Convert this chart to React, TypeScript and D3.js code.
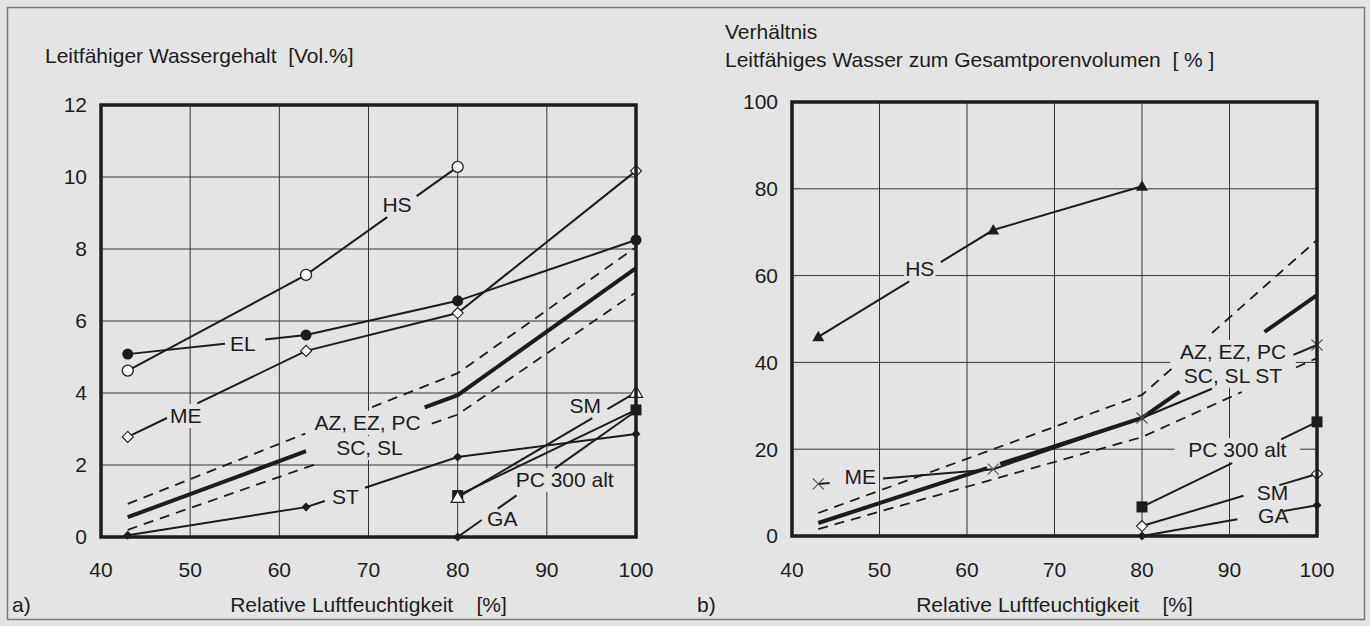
import React from 'react';
import * as d3 from 'd3';

type Pt = [number, number];
type Gap = [number, number];

const xTicks = [40, 50, 60, 70, 80, 90, 100];
const yTicksA = [0, 2, 4, 6, 8, 10, 12];
const yTicksB = [0, 20, 40, 60, 80, 100];

// ---------- Panel a: Leitfähiger Wassergehalt [Vol.%] ----------
const aHS: Pt[] = [[43, 4.62], [63, 7.28], [80, 10.28]];
const aEL: Pt[] = [[43, 5.08], [63, 5.61], [80, 6.56], [100, 8.25]];
const aME: Pt[] = [[43, 2.78], [63, 5.17], [80, 6.22], [100, 10.17]];
const aST: Pt[] = [[43, 0.05], [63, 0.83], [80, 2.22], [100, 2.86]];
const aGroupMid: Pt[] = [[43, 0.55], [80, 3.94], [100, 7.47]];
const aGroupHigh: Pt[] = [[43, 0.92], [80, 4.55], [100, 8.05]];
const aGroupLow: Pt[] = [[43, 0.2], [80, 3.4], [100, 6.8]];
const aSM: Pt[] = [[80, 1.1], [100, 4.02]];
const aPC300: Pt[] = [[80, 1.15], [100, 3.53]];
const aGA: Pt[] = [[80, 0], [100, 3.5]];

// ---------- Panel b: Verhältnis leitfähiges Wasser / Gesamtporenvolumen [%] ----------
const bHS: Pt[] = [[43, 45.9], [63, 70.5], [80, 80.6]];
const bME: Pt[] = [[43, 12.0], [63, 15.4], [80, 27.2], [100, 44.0]];
const bGroupMid: Pt[] = [[43, 3.0], [80, 27.2], [100, 55.5]];
const bGroupHigh: Pt[] = [[43, 5.3], [80, 32.5], [100, 68.2]];
const bGroupLow: Pt[] = [[43, 1.6], [80, 22.8], [100, 41.0]];
const bPC300: Pt[] = [[80, 6.7], [100, 26.3]];
const bSM: Pt[] = [[80, 2.3], [100, 14.3]];
const bGA: Pt[] = [[80, 0], [100, 7.1]];

type Marker = 'none' | 'circleOpen' | 'circleFilled' | 'diamondOpen' | 'diamondFilled' | 'triangleOpen' | 'triangleFilled' | 'squareFilled' | 'cross';

interface Series {
  pts: Pt[];
  gaps: Gap[];
  marker: Marker;
  width: number;
  dash?: string;
}

const seriesA: Series[] = [
  { pts: aGroupHigh, gaps: [[62.9, 70.4]], marker: 'none', width: 1.8, dash: '10,7' },
  { pts: aGroupLow, gaps: [[64.6, 77.1]], marker: 'none', width: 1.8, dash: '10,7' },
  { pts: aGroupMid, gaps: [[63.0, 76.3]], marker: 'none', width: 4 },
  { pts: aHS, gaps: [[72.1, 75.4]], marker: 'circleOpen', width: 2 },
  { pts: aEL, gaps: [[53.9, 58.4]], marker: 'circleFilled', width: 2 },
  { pts: aME, gaps: [[47.4, 50.8]], marker: 'diamondOpen', width: 2 },
  { pts: aST, gaps: [[65.1, 69.6]], marker: 'diamondFilled', width: 2 },
  { pts: aGA, gaps: [[82.7, 84.5], [86.6, 90.9]], marker: 'diamondFilled', width: 2 },
  { pts: aPC300, gaps: [], marker: 'squareFilled', width: 2 },
  { pts: aSM, gaps: [[95.1, 96.8]], marker: 'triangleOpen', width: 2 },
];

const seriesB: Series[] = [
  { pts: bGroupHigh, gaps: [[83.5, 88.0]], marker: 'none', width: 1.8, dash: '10,7' },
  { pts: bGroupLow, gaps: [[91.4, 97.6]], marker: 'none', width: 1.8, dash: '10,7' },
  { pts: bGroupMid, gaps: [[62.3, 63.8], [84.3, 94.0]], marker: 'none', width: 4 },
  { pts: bHS, gaps: [[53.4, 57.0]], marker: 'triangleFilled', width: 2 },
  { pts: bME, gaps: [[44.3, 50.4], [88.0, 97.3]], marker: 'cross', width: 2 },
  { pts: bPC300, gaps: [[90.3, 95.9]], marker: 'squareFilled', width: 2 },
  { pts: bSM, gaps: [[91.6, 95.7]], marker: 'diamondOpen', width: 2 },
  { pts: bGA, gaps: [[90.9, 96.2]], marker: 'diamondFilled', width: 2 },
];

const labelTextA = ['HS', 'EL', 'ME', 'AZ, EZ, PC', 'SC, SL', 'ST', 'SM', 'PC 300 alt', 'GA'];
const labelPosA: Pt[] = [[73.2, 9.22], [55.9, 5.36], [49.5, 3.36], [69.9, 3.17], [70.1, 2.47], [67.4, 1.11], [94.3, 3.64], [92.0, 1.58], [85.0, 0.5]];
const labelTextB = ['HS', 'ME', 'AZ, EZ, PC', 'SC, SL ST', 'PC 300 alt', 'SM', 'GA'];
const labelPosB: Pt[] = [[54.6, 61.5], [47.8, 13.6], [90.4, 42.4], [90.4, 36.9], [90.9, 19.8], [94.9, 10.1], [95.0, 4.6]];

const BG = '#e4e4e4';
const INK = '#1c1c1c';
const FONT = '"Liberation Sans", Arial, Helvetica, sans-serif';
const FS = 21;

function interp(pts: Pt[], x: number): number {
  for (let i = 0; i < pts.length - 1; i++) {
    const [x0, y0] = pts[i];
    const [x1, y1] = pts[i + 1];
    if (x >= x0 && x <= x1) return y0 + ((y1 - y0) * (x - x0)) / (x1 - x0);
  }
  return pts[pts.length - 1][1];
}

function splitSegments(pts: Pt[], gaps: Gap[]): Pt[][] {
  const xmin = pts[0][0];
  const xmax = pts[pts.length - 1][0];
  const xs = Array.from(new Set([...pts.map((p) => p[0]), ...gaps.flat()]))
    .filter((x) => x >= xmin && x <= xmax)
    .sort((a, b) => a - b);
  const segs: Pt[][] = [];
  let cur: Pt[] | null = null;
  for (let i = 0; i < xs.length - 1; i++) {
    const a = xs[i];
    const b = xs[i + 1];
    const mid = (a + b) / 2;
    const inGap = gaps.some((g) => mid > g[0] && mid < g[1]);
    if (!inGap) {
      if (!cur) {
        cur = [[a, interp(pts, a)]];
        segs.push(cur);
      }
      cur.push([b, interp(pts, b)]);
    } else cur = null;
  }
  return segs;
}

function MarkerShape({ type, cx, cy }: { type: Marker; cx: number; cy: number }) {
  switch (type) {
    case 'circleOpen':
      return <circle cx={cx} cy={cy} r={5.5} fill="#fff" stroke={INK} strokeWidth={1.3} />;
    case 'circleFilled':
      return <circle cx={cx} cy={cy} r={5.5} fill={INK} />;
    case 'diamondOpen':
      return <path d={`M${cx},${cy - 5.5}L${cx + 5.5},${cy}L${cx},${cy + 5.5}L${cx - 5.5},${cy}Z`} fill="#fff" stroke={INK} strokeWidth={1.1} />;
    case 'diamondFilled':
      return <path d={`M${cx},${cy - 4.5}L${cx + 4.5},${cy}L${cx},${cy + 4.5}L${cx - 4.5},${cy}Z`} fill={INK} />;
    case 'triangleOpen':
      return <path d={`M${cx},${cy - 6.5}L${cx + 6.5},${cy + 5}L${cx - 6.5},${cy + 5}Z`} fill="#fff" stroke={INK} strokeWidth={1.2} />;
    case 'triangleFilled':
      return <path d={`M${cx},${cy - 6}L${cx + 6},${cy + 4.5}L${cx - 6},${cy + 4.5}Z`} fill={INK} />;
    case 'squareFilled':
      return <rect x={cx - 5.5} y={cy - 5.5} width={11} height={11} fill={INK} />;
    case 'cross':
      return <path d={`M${cx - 5.5},${cy - 5.5}L${cx + 5.5},${cy + 5.5}M${cx - 5.5},${cy + 5.5}L${cx + 5.5},${cy - 5.5}`} stroke="#555" strokeWidth={1.2} fill="none" />;
    default:
      return null;
  }
}

interface PanelProps {
  x0: number; x1: number; y0: number; y1: number;
  yMax: number;
  yTicks: number[];
  series: Series[];
  labels: string[];
  labelPos: Pt[];
  tag: string;
  tagX: number;
}

function Panel(p: PanelProps) {
  const x = d3.scaleLinear().domain([40, 100]).range([p.x0, p.x1]);
  const y = d3.scaleLinear().domain([0, p.yMax]).range([p.y1, p.y0]);
  const line = d3.line<Pt>().x((d) => x(d[0])).y((d) => y(d[1]));
  const cxm = (p.x0 + p.x1) / 2;
  return (
    <g>
      {/* grid */}
      {xTicks.slice(1, -1).map((t) => (
        <line key={'gx' + t} x1={x(t)} x2={x(t)} y1={p.y0} y2={p.y1} stroke="#333" strokeWidth={1} />
      ))}
      {p.yTicks.slice(1, -1).map((t) => (
        <line key={'gy' + t} x1={p.x0} x2={p.x1} y1={y(t)} y2={y(t)} stroke="#333" strokeWidth={1} />
      ))}
      {/* label knockouts */}
      {p.labels.map((l, i) => {
        const w = l.length * FS * 0.56 + 8;
        return (
          <rect key={'kb' + i} x={x(p.labelPos[i][0]) - w / 2} y={y(p.labelPos[i][1]) - 12} width={w} height={24} fill={BG} />
        );
      })}
      {/* series lines */}
      {p.series.map((s, i) =>
        splitSegments(s.pts, s.gaps).map((seg, j) => (
          <path key={`s${i}-${j}`} d={line(seg) || ''} fill="none" stroke={INK} strokeWidth={s.width} strokeDasharray={s.dash} />
        ))
      )}
      {/* markers */}
      {p.series.map((s, i) =>
        s.marker === 'none' ? null : s.pts.map((pt, j) => <MarkerShape key={`m${i}-${j}`} type={s.marker} cx={x(pt[0])} cy={y(pt[1])} />)
      )}
      {/* frame */}
      <rect x={p.x0} y={p.y0} width={p.x1 - p.x0} height={p.y1 - p.y0} fill="none" stroke={INK} strokeWidth={3.5} />
      {/* labels */}
      {p.labels.map((l, i) => (
        <text key={'lb' + i} x={x(p.labelPos[i][0])} y={y(p.labelPos[i][1])} dy="0.35em" textAnchor="middle" fontSize={FS} fill={INK} style={{ whiteSpace: 'pre' }}>
          {l}
        </text>
      ))}
      {/* tick labels */}
      {xTicks.map((t) => (
        <text key={'tx' + t} x={x(t)} y={570} dy="0.35em" textAnchor="middle" fontSize={FS} fill={INK}>{t}</text>
      ))}
      {p.yTicks.map((t) => (
        <text key={'ty' + t} x={p.x0 - 14} y={y(t)} dy="0.35em" textAnchor="end" fontSize={FS} fill={INK}>{t}</text>
      ))}
      <text x={cxm} y={605} dy="0.35em" textAnchor="middle" fontSize={FS} fill={INK} style={{ whiteSpace: 'pre' }}>
        {'Relative Luftfeuchtigkeit    [%]'}
      </text>
      <text x={p.tagX} y={605} dy="0.35em" fontSize={FS} fill={INK}>{p.tag}</text>
    </g>
  );
}

export default function App() {
  return (
    <svg width={1370} height={626} style={{ position: 'absolute', left: 0, top: 0, fontFamily: FONT }}>
      <rect x={0} y={0} width={1370} height={626} fill={BG} />
      <rect x={7.5} y={7.5} width={1357} height={612} fill="none" stroke="#7a7a7a" strokeWidth={1.5} />
      <text x={45} y={56} dy="0.35em" fontSize={FS} fill={INK} style={{ whiteSpace: 'pre' }}>
        {'Leitfähiger Wassergehalt  [Vol.%]'}
      </text>
      <text x={725} y={32} dy="0.35em" fontSize={FS} fill={INK}>Verhältnis</text>
      <text x={725} y={60} dy="0.35em" fontSize={FS} fill={INK} style={{ whiteSpace: 'pre' }}>
        {'Leitfähiges Wasser zum Gesamtporenvolumen  [ % ]'}
      </text>
      <Panel x0={101} x1={636} y0={105} y1={537} yMax={12} yTicks={yTicksA} series={seriesA} labels={labelTextA} labelPos={labelPosA} tag="a)" tagX={12} />
      <Panel x0={792} x1={1317} y0={102} y1={536} yMax={100} yTicks={yTicksB} series={seriesB} labels={labelTextB} labelPos={labelPosB} tag="b)" tagX={697} />
    </svg>
  );
}
